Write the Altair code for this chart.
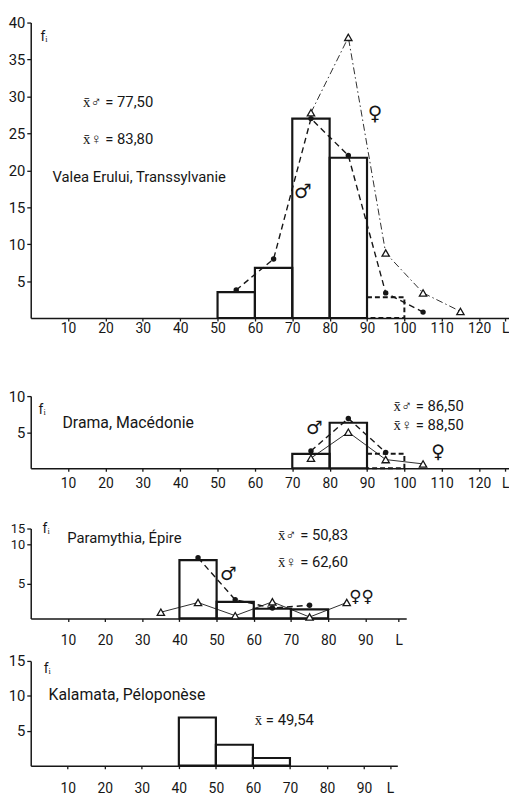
import altair as alt
import pandas as pd

# ---------------- data ----------------
BIN_WIDTH = 10

# Valea Erului, Transsylvanie
p1_bin_lo = [50, 60, 70, 80, 90]
p1_bin_f = [3.5, 6.8, 27.0, 21.7, 2.8]
p1_male_L = [55, 65, 75, 85, 95, 105]
p1_male_f = [3.8, 8.0, 27.0, 22.0, 3.4, 0.8]
p1_fem_L = [75, 85, 95, 105, 115]
p1_fem_f = [27.8, 38.0, 8.8, 3.4, 0.9]

# Drama, Macédonie
p2_bin_lo = [70, 80, 90]
p2_bin_f = [2.0, 6.3, 2.0]
p2_male_L = [75, 85, 95]
p2_male_f = [2.4, 6.9, 2.2]
p2_fem_L = [75, 85, 95, 105]
p2_fem_f = [1.4, 5.0, 1.2, 0.6]

# Paramythia, Épire
p3_bin_lo = [40, 50, 60, 70]
p3_bin_f = [8.0, 2.4, 1.4, 1.3]
p3_male_L = [45, 55, 65, 75]
p3_male_f = [8.3, 2.7, 1.5, 1.9]
p3_fem_L = [35, 45, 55, 65, 75, 85]
p3_fem_f = [0.9, 2.3, 0.4, 2.4, 0.2, 2.3]

# Kalamata, Péloponèse
p4_bin_lo = [40, 50, 60]
p4_bin_f = [6.9, 3.0, 1.1]

x_ticks_long = [10, 20, 30, 40, 50, 60, 70, 80, 90, 100, 110, 120]
x_ticks_short = [10, 20, 30, 40, 50, 60, 70, 80, 90]

FONT = "Roboto"
SYM_FONT = "DejaVu Sans"
INK = "#161616"


def hist_df(lo, f):
    return pd.DataFrame({"lo": lo, "hi": [v + BIN_WIDTH for v in lo], "f": f})


def pts_df(L, f):
    return pd.DataFrame({"L": L, "f": f})


def text_layer(x, y, txt, size=15, align="left", font=FONT):
    return alt.Chart(pd.DataFrame({"_": [0]})).mark_text(
        text=txt, align=align, baseline="middle", font=font, fontSize=size, color=INK
    ).encode(x=alt.datum(x), y=alt.datum(y))


def panel(bins, male, fem, xdom, xticks, Lpos, ydom, yrange, yticks, w, h,
          texts, dash_from=None, male_dash=(6, 4), fem_dash=None, lab_pad=2,
          ylab_size=15):
    xs = alt.Scale(domain=xdom, nice=False, zero=False)
    ys = alt.Scale(domain=ydom, range=yrange, nice=False, zero=False)
    xaxis = alt.Axis(values=xticks + [Lpos],
                     labelExpr=f"datum.value == {Lpos} ? 'L' : datum.label",
                     title=None, grid=False, tickSize=3, labelPadding=lab_pad,
                     labelFontSize=14, labelFlush=False, labelOverlap=False)
    yaxis = alt.Axis(values=yticks, title=None, grid=False, tickSize=4,
                     labelPadding=2, labelFontSize=ylab_size, labelOverlap=False)

    layers = []
    hd = hist_df(*bins)
    base_bar = alt.Chart(hd).encode(
        x=alt.X("lo:Q", scale=xs, axis=xaxis),
        x2="hi:Q",
        y=alt.Y("f:Q", scale=ys, axis=yaxis),
        y2=alt.datum(0),
    )
    if dash_from is None:
        layers.append(base_bar.mark_rect(fill="white", fillOpacity=0,
                                         stroke=INK, strokeWidth=2.2))
    else:
        layers.append(base_bar.transform_filter(f"datum.lo < {dash_from}").mark_rect(
            fill="white", fillOpacity=0, stroke=INK, strokeWidth=2.2))
        layers.append(base_bar.transform_filter(f"datum.lo >= {dash_from}").mark_rect(
            fill="white", fillOpacity=0, stroke=INK, strokeWidth=2,
            strokeDash=[5, 3]))

    if fem is not None:
        fd = pts_df(*fem)
        fb = alt.Chart(fd).encode(x=alt.X("L:Q", scale=xs), y=alt.Y("f:Q", scale=ys))
        line_kw = dict(color=INK, strokeWidth=0.9)
        if fem_dash is not None:
            line_kw["strokeDash"] = list(fem_dash)
        layers.append(fb.mark_line(**line_kw))
        layers.append(fb.mark_point(shape="triangle-up", filled=True, fill="white",
                                    stroke=INK, strokeWidth=1.3, size=55, opacity=1))
    if male is not None:
        md = pts_df(*male)
        mb = alt.Chart(md).encode(x=alt.X("L:Q", scale=xs), y=alt.Y("f:Q", scale=ys))
        layers.append(mb.mark_line(color=INK, strokeWidth=1.4,
                                   strokeDash=list(male_dash)))
        layers.append(mb.mark_point(shape="circle", filled=True, color=INK,
                                    size=30, opacity=1))
    for t in texts:
        layers.append(text_layer(*t))
    return alt.layer(*layers).properties(width=w, height=h)


# each panel's height includes the empty gap above its plot area;
# the y scale range covers only the lower part (the plot itself)
c1 = panel(
    (p1_bin_lo, p1_bin_f), (p1_male_L, p1_male_f), (p1_fem_L, p1_fem_f),
    [0, 128], x_ticks_long, 127, [0, 40], [299, 0],
    [5, 10, 15, 20, 25, 30, 35, 40], 484, 299,
    [
        (2.6, 38.1, "fᵢ", 14),
        (14.0, 29.2, "x̄♂ = 77,50", 15),
        (14.0, 24.2, "x̄♀ = 83,80", 15),
        (5.8, 19.1, "Valea  Erului, Transsylvanie", 15),
        (92.1, 27.6, "♀", 20, "center", SYM_FONT),
        (72.8, 17.1, "♂", 20, "center", SYM_FONT),
    ],
    dash_from=90, fem_dash=(7, 3, 1.5, 3), lab_pad=1,
)

c2 = panel(
    (p2_bin_lo, p2_bin_f), (p2_male_L, p2_male_f), (p2_fem_L, p2_fem_f),
    [0, 128], x_ticks_long, 127, [0, 10], [152, 79], [5, 10],
    484, 152,
    [
        (2.1, 8.1, "fᵢ", 14),
        (8.5, 6.3, "Drama, Macédonie", 16),
        (97.1, 8.6, "x̄♂ = 86,50", 15),
        (97.1, 6.0, "x̄♀ = 88,50", 15),
        (75.9, 5.5, "♂", 19, "center", SYM_FONT),
        (109.0, 2.3, "♀", 19, "center", SYM_FONT),
    ],
    dash_from=90, lab_pad=6,
)

c3 = panel(
    (p3_bin_lo, p3_bin_f), (p3_male_L, p3_male_f), (p3_fem_L, p3_fem_f),
    [0, 101], x_ticks_short, 99, [0, 5, 10, 15], [152, 117, 77, 61],
    [5, 10, 15], 380, 152,
    [
        (3.2, 14.8, "fᵢ", 14),
        (9.8, 12.0, "Paramythia, Épire", 15),
        (66.5, 13.0, "x̄♂ = 50,83", 15),
        (66.5, 7.8, "x̄♀ = 62,60", 15),
        (53.2, 6.2, "♂", 19, "center", SYM_FONT),
        (89.0, 3.1, "♀♀", 17, "center", SYM_FONT),
    ],
    lab_pad=12, ylab_size=13,
)

c4 = panel(
    (p4_bin_lo, p4_bin_f), None, None,
    [0, 99], x_ticks_short, 97, [0, 15], [149, 43], [5, 10, 15],
    371, 149,
    [
        (3.5, 13.9, "fᵢ", 14),
        (4.8, 10.05, "Kalamata, Péloponèse", 16),
        (60.5, 6.5, "x̄ = 49,54", 15),
    ],
    lab_pad=13,
)

chart = alt.vconcat(c1, c2, c3, c4, spacing=0, bounds="flush").properties(
    padding={"left": 0, "top": 3, "right": 0, "bottom": 0},
    background="white",
).configure_view(stroke=None).configure_axis(
    labelFont=FONT, labelColor=INK, domainColor=INK, tickColor=INK,
    domainWidth=1.5, tickWidth=1.3,
).configure_text(font=FONT)

chart.save("out.html", embed_options={"renderer": "svg", "actions": False})
